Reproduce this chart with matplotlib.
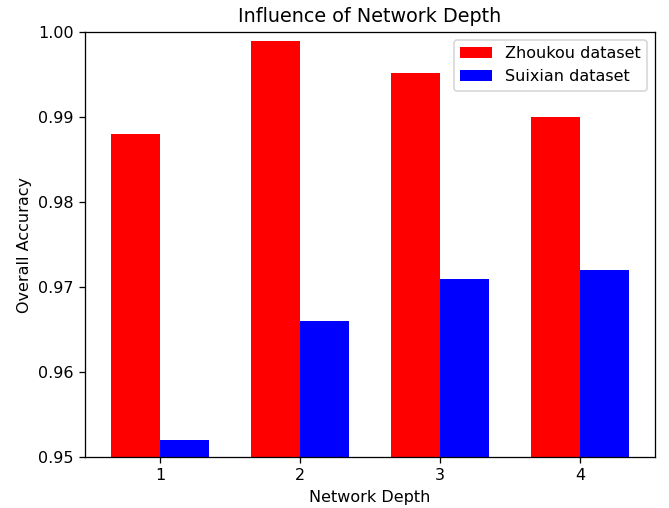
import numpy as np
import matplotlib
matplotlib.use('Agg')
import matplotlib.pyplot as plt

# Network depth settings and accuracies
depths = [1, 2, 3, 4]
zhoukou = [0.988, 0.999, 0.9952, 0.990]
suixian = [0.952, 0.966, 0.971, 0.972]

width = 0.35
x = np.array(depths)

fig, ax = plt.subplots(figsize=(669 / 115, 508 / 115), dpi=115)
fig.subplots_adjust(left=0.127, right=0.979, top=0.937, bottom=0.100)

ax.bar(x - width / 2, zhoukou, width, color='red', label='Zhoukou dataset')
ax.bar(x + width / 2, suixian, width, color='blue', label='Suixian dataset')

ax.set_ylim(0.95, 1.0)
ax.set_xticks(x)
ax.set_xticklabels([str(d) for d in depths])
ax.set_xlabel('Network Depth')
ax.set_ylabel('Overall Accuracy')
ax.set_title('Influence of Network Depth')
ax.legend()

plt.savefig('out.png')
